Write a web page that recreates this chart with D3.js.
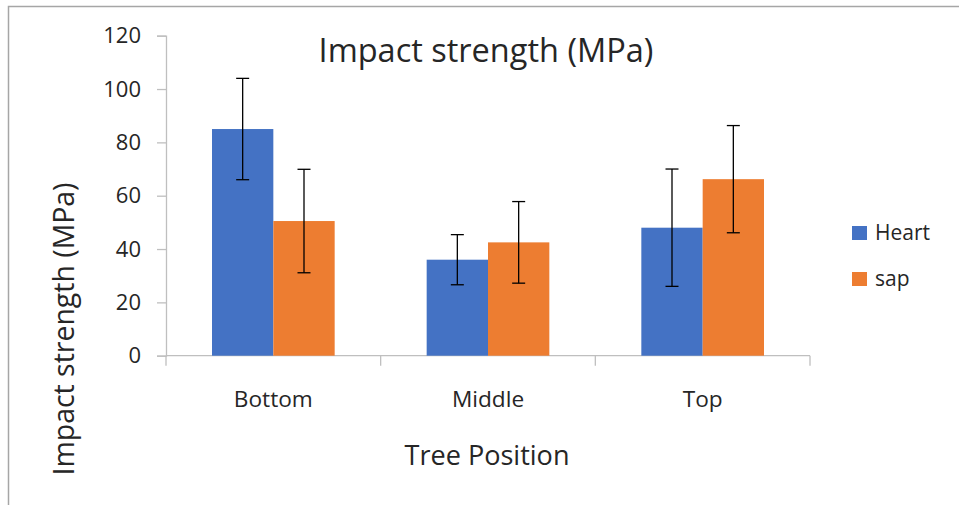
<!DOCTYPE html>
<html>
<head>
<meta charset="utf-8">
<script src="https://cdn.jsdelivr.net/npm/d3@7"></script>
<style>
  html, body { margin: 0; padding: 0; background: #fff; }
  svg text { font-family: "Open Sans", "Noto Sans", sans-serif; fill: #262626; }
</style>
</head>
<body>
<svg id="chart" width="959" height="505"></svg>
<script>
const categories = ["Bottom", "Middle", "Top"];
const seriesNames = ["Heart", "sap"];
const heartValues = [85.0, 36.0, 48.0];
const sapValues = [50.5, 42.5, 66.2];
const heartErrors = [19.0, 9.4, 22.0];
const sapErrors = [19.4, 15.3, 20.1];
const yTicks = [0, 20, 40, 60, 80, 100, 120];
const colors = ["#4472C4", "#ED7D31"];

const svg = d3.select("#chart");

// frame border
svg.append("path")
  .attr("d", "M8.5,505 L8.5,6.5 L959,6.5")
  .attr("fill", "none").attr("stroke", "#a6a6a6").attr("stroke-width", 1.5);

const x0 = d3.scaleBand().domain(categories).range([166, 810]).paddingInner(0).paddingOuter(0);
const bw = x0.bandwidth();
const groupW = bw / (seriesNames.length + 1.5) * seriesNames.length;
const x1 = d3.scaleBand().domain(seriesNames).range([(bw - groupW) / 2, (bw + groupW) / 2]);
const y = d3.scaleLinear().domain([0, 120]).range([355.7, 35.7]);

function fit(sel, target) {
  const n = sel.node();
  const fs = parseFloat(sel.attr("font-size"));
  const w = n.getComputedTextLength();
  const nfs = fs * target / w;
  sel.attr("font-size", nfs.toFixed(2));
  return nfs;
}

// y axis
const yAxis = svg.append("g").attr("transform", "translate(166,0)")
  .call(d3.axisLeft(y).tickValues(yTicks).tickSize(9).tickPadding(16));
yAxis.select(".domain").attr("stroke", "#bfbfbf").attr("stroke-width", 1.3);
yAxis.selectAll(".tick line").attr("stroke", "#bfbfbf").attr("stroke-width", 1.3);
yAxis.selectAll(".tick text").attr("font-size", 22).attr("fill", "#262626")
  .attr("font-family", "'Open Sans', sans-serif");

// x axis
const xAxisG = svg.append("g").attr("transform", "translate(0,355.7)");
xAxisG.append("line").attr("x1", 166).attr("x2", 810).attr("y1", 0).attr("y2", 0)
  .attr("stroke", "#bfbfbf").attr("stroke-width", 1.3);
const bounds = categories.map(c => x0(c)).concat([x0(categories[categories.length - 1]) + bw]);
xAxisG.selectAll("line.tk").data(bounds).enter().append("line").attr("class", "tk")
  .attr("x1", d => d).attr("x2", d => d).attr("y1", 0).attr("y2", 10)
  .attr("stroke", "#bfbfbf").attr("stroke-width", 1.3);
const catLabels = xAxisG.selectAll("text.cat").data(categories).enter().append("text").attr("class", "cat")
  .attr("x", d => x0(d) + bw / 2).attr("y", 51).attr("text-anchor", "middle")
  .attr("font-size", 20).text(d => d);
const catFs = fit(d3.select(catLabels.nodes()[0]), 79);
catLabels.attr("font-size", catFs.toFixed(2));

// bars
const data = categories.map((c, i) => ({
  cat: c,
  vals: [
    { s: seriesNames[0], v: heartValues[i], e: heartErrors[i], c: colors[0] },
    { s: seriesNames[1], v: sapValues[i], e: sapErrors[i], c: colors[1] }
  ]
}));
const groups = svg.append("g").selectAll("g").data(data).enter().append("g")
  .attr("transform", d => `translate(${x0(d.cat)},0)`);
groups.selectAll("rect").data(d => d.vals).enter().append("rect")
  .attr("x", d => x1(d.s)).attr("width", x1.bandwidth())
  .attr("y", d => y(d.v)).attr("height", d => y(0) - y(d.v))
  .attr("fill", d => d.c);

// error bars
const capW = 13;
const eb = groups.selectAll("g.err").data(d => d.vals).enter().append("g").attr("class", "err")
  .attr("stroke", "#000").attr("stroke-width", 1.3);
eb.append("line").attr("x1", d => x1(d.s) + x1.bandwidth() / 2).attr("x2", d => x1(d.s) + x1.bandwidth() / 2)
  .attr("y1", d => y(d.v + d.e)).attr("y2", d => y(d.v - d.e));
eb.append("line").attr("x1", d => x1(d.s) + x1.bandwidth() / 2 - capW / 2).attr("x2", d => x1(d.s) + x1.bandwidth() / 2 + capW / 2)
  .attr("y1", d => y(d.v + d.e)).attr("y2", d => y(d.v + d.e));
eb.append("line").attr("x1", d => x1(d.s) + x1.bandwidth() / 2 - capW / 2).attr("x2", d => x1(d.s) + x1.bandwidth() / 2 + capW / 2)
  .attr("y1", d => y(d.v - d.e)).attr("y2", d => y(d.v - d.e));

// title
const title = svg.append("text").attr("x", 486).attr("y", 62).attr("text-anchor", "middle")
  .attr("font-size", 30).text("Impact strength (MPa)");
fit(title, 335);

// y axis title
const yTitle = svg.append("text").attr("transform", "translate(74,329) rotate(-90)")
  .attr("text-anchor", "middle").attr("font-size", 27).text("Impact strength (MPa)");
fit(yTitle, 293);

// x axis title
const xTitle = svg.append("text").attr("x", 487).attr("y", 465).attr("text-anchor", "middle")
  .attr("font-size", 27).text("Tree Position");
fit(xTitle, 165);

// legend
const legend = svg.append("g");
const legY = [226, 272];
seriesNames.forEach((s, i) => {
  legend.append("rect").attr("x", 852).attr("y", legY[i]).attr("width", 15).attr("height", 14)
    .attr("fill", colors[i]);
  legend.append("text").attr("x", 875).attr("y", legY[i] + 14).attr("font-size", 21).text(s);
});
</script>
</body>
</html>
